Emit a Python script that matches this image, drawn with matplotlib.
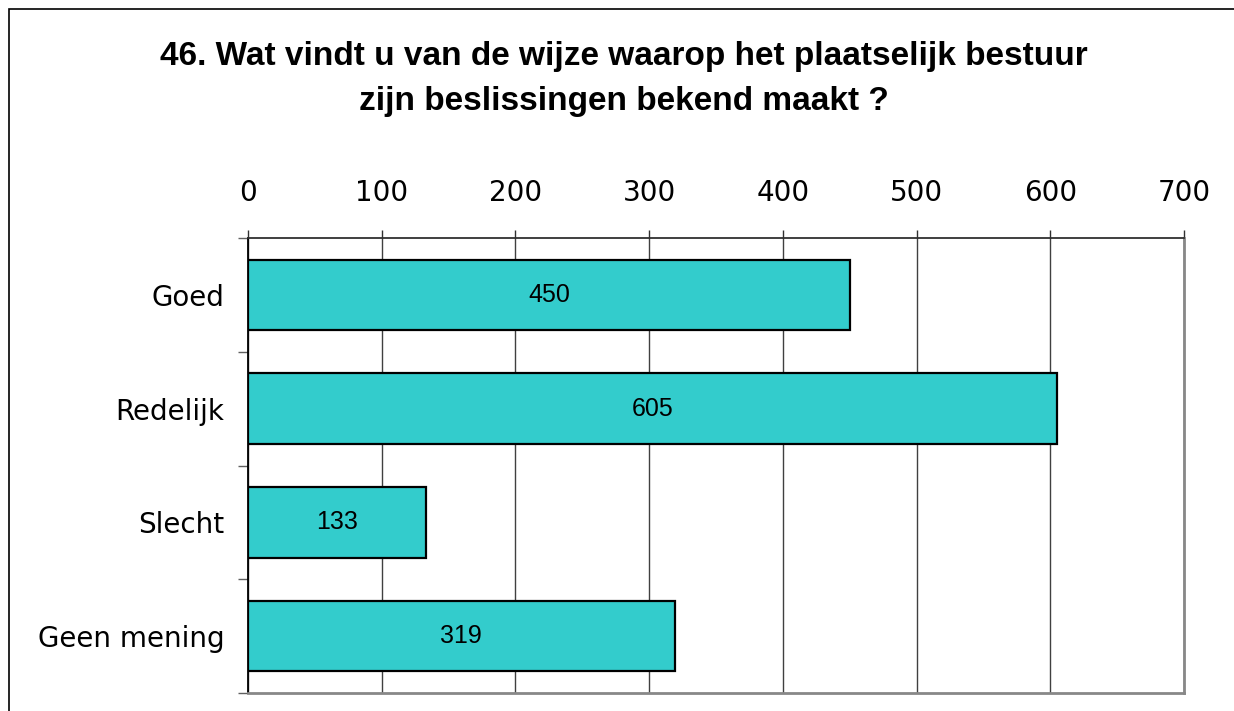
import matplotlib.pyplot as plt
from matplotlib.patches import Rectangle

categories = ['Goed', 'Redelijk', 'Slecht', 'Geen mening']
values = [450, 605, 133, 319]
xticks = [0, 100, 200, 300, 400, 500, 600, 700]
title = '46. Wat vindt u van de wijze waarop het plaatselijk bestuur\nzijn beslissingen bekend maakt ?'

W, H = 1234, 711
fig = plt.figure(figsize=(W / 100, H / 100), dpi=100)
ax = fig.add_axes([248 / W, 1 - 693 / H, (1184 - 248) / W, (693 - 238) / H])

ypos = list(range(len(categories)))
ax.barh(ypos, values, height=0.62, color='#33CCCC', edgecolor='black', linewidth=1.6, zorder=3)
for y, v in zip(ypos, values):
    ax.text(v / 2, y, str(v), ha='center', va='center', fontsize=18,
            family='Liberation Sans', zorder=4)

ax.set_xlim(0, 700)
ax.set_ylim(len(categories) - 0.5, -0.5)
ax.xaxis.tick_top()
ax.set_xticks(xticks)
ax.set_xticklabels([str(t) for t in xticks], fontsize=20, family='DejaVu Sans')
ax.tick_params(axis='x', direction='out', length=6, width=1, color='#303030', pad=16)

ax.set_yticks([i + 0.5 for i in range(-1, len(categories))], minor=False)
ax.set_yticklabels([])
ax.set_yticks(ypos, minor=True)
ax.set_yticklabels(categories, minor=True, fontsize=20, family='DejaVu Sans')
ax.tick_params(axis='y', which='major', direction='out', length=7, width=1, color='#606060')
ax.tick_params(axis='y', which='minor', length=0, pad=17)

ax.grid(axis='x', color='#404040', linewidth=1, zorder=0)
ax.set_axisbelow(True)

ax.spines['top'].set_color('#303030')
ax.spines['top'].set_linewidth(1.3)
ax.spines['left'].set_color('black')
ax.spines['left'].set_linewidth(1.3)
ax.spines['right'].set_color('#888888')
ax.spines['right'].set_linewidth(2)
ax.spines['bottom'].set_color('#888888')
ax.spines['bottom'].set_linewidth(2)

fig.text(624 / W, 1 - 41 / H, title, ha='center', va='top', fontsize=24,
         fontweight='bold', family='Liberation Sans', linespacing=1.6)

fig.patches.append(Rectangle((8.5 / W, -0.1), 1.2, 1 - 9 / H + 0.1, transform=fig.transFigure,
                             fill=False, edgecolor='black', linewidth=1.2))

fig.savefig('out.png', dpi=100)
